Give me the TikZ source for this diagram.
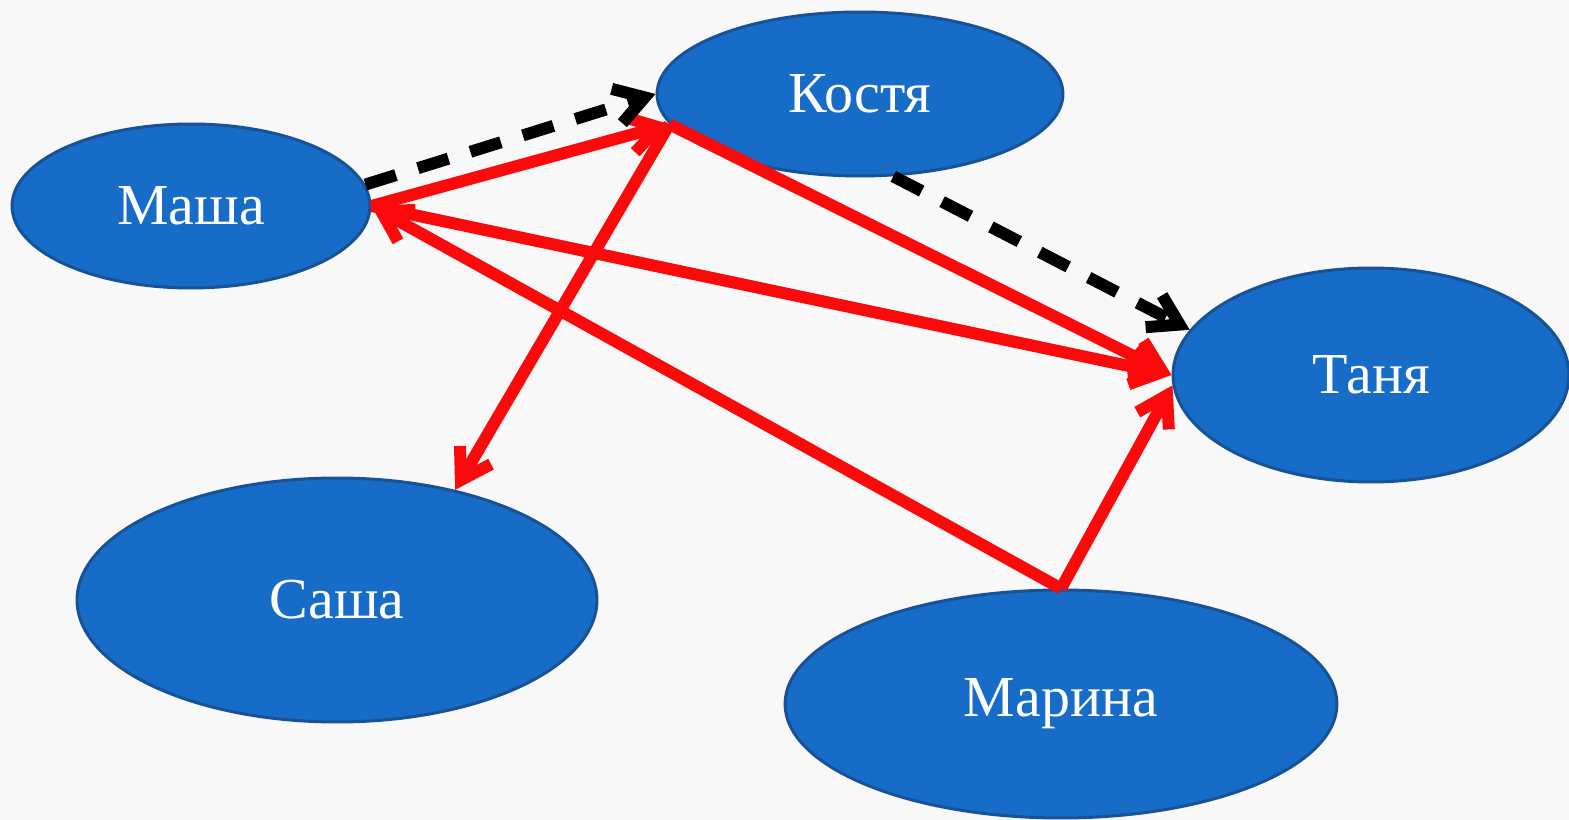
\documentclass[tikz,border=0pt]{standalone}
\usepackage{fontspec}
\setmainfont{Liberation Serif}
\usetikzlibrary{shapes.geometric,arrows.meta}
\definecolor{nodefill}{RGB}{22,108,198}
\definecolor{nodeedge}{RGB}{24,82,150}
\definecolor{bgpaper}{RGB}{248,248,248}
\definecolor{linkred}{RGB}{250,10,10}
\begin{document}
\begin{tikzpicture}[x=0.02cm,y=-0.02cm,
  person/.style={ellipse, fill=nodefill, draw=nodeedge, line width=0.06cm,
    inner sep=0pt, text=white, font=\fontsize{33}{36}\selectfont},
  barb/.style={-{Straight Barb[length=0.58cm,width=0.72cm]}},
  redlink/.style={draw=linkred, line width=0.24cm, barb},
  dashlink/.style={draw=black, line width=0.24cm, dash pattern=on 0.64cm off 0.46cm, barb}]
  % paper
  \fill[bgpaper] (0,0) rectangle (1569,820);
  \useasboundingbox (0,0) rectangle (1569,820);
  % people
  \node[person, minimum width=7.16cm, minimum height=3.28cm] (masha) at (191,206) {Маша};
  \node[person, minimum width=8.12cm, minimum height=3.28cm] (kostya) at (860,94) {Костя};
  \node[person, minimum width=7.92cm, minimum height=4.28cm] (tanya) at (1371,375) {Таня};
  \node[person, minimum width=10.4cm, minimum height=4.88cm] (sasha) at (337,600) {Саша};
  \node[person, minimum width=11.04cm, minimum height=4.56cm] (marina) at (1061,704) {Марина};
  % relations
  \draw[redlink] (masha.east) -- (kostya.189.4);
  \draw[redlink] (masha.east) -- (tanya.west);
  \draw[redlink] (kostya.189.4) -- (tanya.west);
  \draw[redlink] (kostya.189.4) -- (sasha.43.7);
  \draw[redlink] (marina.north) -- (tanya.183);
  \draw[redlink] (marina.north) -- (masha.east);
  \draw[dashlink] (masha.7.5) -- (kostya.west);
  \draw[dashlink] (kostya.-68.5) -- (tanya.166.4);
\end{tikzpicture}
\end{document}
